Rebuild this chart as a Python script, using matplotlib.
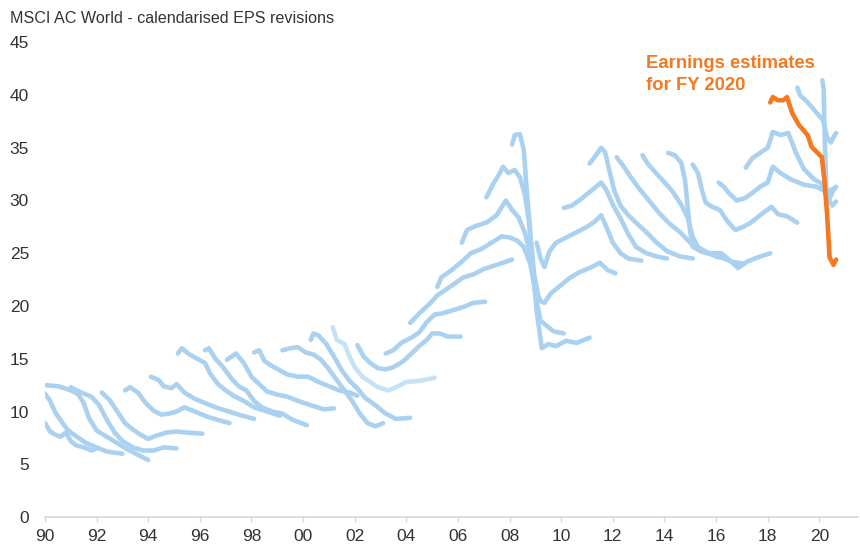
import matplotlib
matplotlib.use("Agg")
import matplotlib.pyplot as plt

plt.rcParams['font.family'] = ['Liberation Sans', 'DejaVu Sans']

# ---- data: calendarised EPS estimate paths, one per fiscal year ----
fy1990_x = [1990.0, 1990.2, 1990.4, 1990.6, 1990.8, 1991.0, 1991.2, 1991.5, 1991.8, 1992.0]
fy1990_y = [8.9, 8.1, 7.8, 7.6, 8.0, 7.2, 6.8, 6.6, 6.3, 6.5]
fy1991_x = [1990.0, 1990.2, 1990.4, 1990.6, 1990.8, 1991.0, 1991.3, 1991.6, 1992.0, 1992.4, 1992.7, 1993.0]
fy1991_y = [11.7, 11.0, 9.9, 9.2, 8.5, 8.0, 7.5, 7.0, 6.6, 6.2, 6.1, 6.0]
fy1992_x = [1990.0, 1990.5, 1991.0, 1991.3, 1991.5, 1991.7, 1992.0, 1992.4, 1992.8, 1993.2, 1993.6, 1994.0]
fy1992_y = [12.5, 12.4, 12.0, 11.6, 10.8, 9.4, 8.2, 7.6, 7.0, 6.4, 5.9, 5.4]
fy1993_x = [1991.0, 1991.4, 1991.8, 1992.1, 1992.4, 1992.7, 1993.0, 1993.4, 1993.8, 1994.2, 1994.6, 1995.1]
fy1993_y = [12.3, 11.8, 11.4, 10.6, 9.2, 8.0, 7.2, 6.6, 6.3, 6.3, 6.6, 6.5]
fy1994_x = [1992.2, 1992.5, 1992.8, 1993.1, 1993.4, 1993.7, 1994.0, 1994.3, 1994.7, 1995.1, 1995.5, 1996.1]
fy1994_y = [11.8, 11.1, 10.0, 8.9, 8.3, 7.8, 7.4, 7.7, 8.0, 8.1, 8.0, 7.9]
fy1995_x = [1993.1, 1993.3, 1993.6, 1993.9, 1994.2, 1994.5, 1994.8, 1995.1, 1995.4, 1995.8, 1996.3, 1996.7, 1997.15]
fy1995_y = [12.0, 12.3, 11.8, 10.8, 10.1, 9.7, 9.8, 10.0, 10.4, 10.0, 9.5, 9.2, 8.9]
fy1996_x = [1994.1, 1994.4, 1994.6, 1994.9, 1995.1, 1995.4, 1995.8, 1996.2, 1996.6, 1997.0, 1997.5, 1998.1]
fy1996_y = [13.3, 13.0, 12.4, 12.2, 12.6, 11.8, 11.2, 10.8, 10.4, 10.1, 9.7, 9.3]
fy1997_x = [1995.15, 1995.3, 1995.6, 1995.9, 1996.2, 1996.4, 1996.7, 1997.0, 1997.3, 1997.7, 1998.1, 1998.6, 1999.1]
fy1997_y = [15.5, 16.0, 15.4, 15.0, 14.6, 13.6, 12.6, 12.0, 11.5, 11.0, 10.4, 10.0, 9.6]
fy1998_x = [1996.2, 1996.35, 1996.6, 1996.9, 1997.2, 1997.5, 1997.8, 1998.1, 1998.4, 1998.8, 1999.2, 1999.6, 2000.15]
fy1998_y = [15.8, 16.0, 15.0, 14.2, 13.2, 12.4, 12.0, 11.0, 10.4, 10.0, 9.8, 9.2, 8.7]
fy1999_x = [1997.05, 1997.4, 1997.7, 1998.0, 1998.3, 1998.6, 1999.0, 1999.4, 1999.8, 2000.3, 2000.8, 2001.2]
fy1999_y = [14.9, 15.5, 14.6, 13.3, 12.6, 11.9, 11.6, 11.4, 11.0, 10.6, 10.2, 10.3]
fy2000_x = [1998.1, 1998.3, 1998.5, 1998.8, 1999.1, 1999.4, 1999.8, 2000.2, 2000.6, 2001.0, 2001.4, 2001.8, 2002.1]
fy2000_y = [15.6, 15.8, 14.8, 14.3, 13.9, 13.5, 13.3, 13.3, 12.8, 12.4, 12.0, 11.8, 11.5]
fy2001_x = [1999.2, 1999.5, 1999.8, 2000.1, 2000.4, 2000.7, 2001.0, 2001.3, 2001.6, 2001.9, 2002.2, 2002.5, 2002.8, 2003.1]
fy2001_y = [15.8, 16.0, 16.1, 15.6, 15.4, 14.9, 14.0, 13.0, 12.0, 11.0, 9.8, 8.9, 8.6, 8.9]
fy2002_x = [2000.3, 2000.4, 2000.6, 2000.9, 2001.2, 2001.5, 2001.8, 2002.1, 2002.4, 2002.8, 2003.2, 2003.6, 2004.15]
fy2002_y = [16.8, 17.4, 17.2, 16.4, 15.2, 13.9, 12.9, 12.2, 11.3, 10.6, 9.8, 9.3, 9.4]
fy2003_x = [2001.15, 2001.3, 2001.6, 2001.8, 2002.0, 2002.3, 2002.6, 2002.9, 2003.3, 2003.6, 2004.0, 2004.5, 2005.1]
fy2003_y = [18.0, 16.8, 16.4, 15.2, 14.2, 13.3, 12.8, 12.3, 12.0, 12.3, 12.8, 12.9, 13.2]
fy2004_x = [2002.1, 2002.35, 2002.6, 2002.9, 2003.2, 2003.5, 2003.9, 2004.2, 2004.5, 2004.8, 2005.0, 2005.3, 2005.6, 2006.1]
fy2004_y = [16.3, 15.2, 14.6, 14.1, 14.0, 14.2, 14.8, 15.5, 16.2, 16.8, 17.4, 17.4, 17.1, 17.1]
fy2005_x = [2003.2, 2003.5, 2003.8, 2004.2, 2004.5, 2004.8, 2005.1, 2005.4, 2005.8, 2006.2, 2006.6, 2007.05]
fy2005_y = [15.5, 15.8, 16.5, 17.0, 17.5, 18.5, 19.2, 19.3, 19.6, 19.9, 20.3, 20.4]
fy2006_x = [2004.15, 2004.5, 2004.9, 2005.2, 2005.5, 2005.8, 2006.2, 2006.6, 2007.0, 2007.5, 2008.1]
fy2006_y = [18.4, 19.3, 20.2, 21.0, 21.5, 22.0, 22.7, 23.0, 23.5, 23.9, 24.4]
fy2007_x = [2005.2, 2005.35, 2005.7, 2006.1, 2006.5, 2006.9, 2007.3, 2007.7, 2008.0, 2008.3, 2008.55, 2008.8, 2009.0, 2009.2]
fy2007_y = [21.8, 22.7, 23.3, 24.1, 25.0, 25.4, 26.0, 26.6, 26.5, 26.2, 25.6, 24.0, 21.5, 20.5]
fy2008_x = [2006.15, 2006.35, 2006.7, 2007.1, 2007.5, 2007.85, 2008.1, 2008.35, 2008.6, 2008.8, 2009.0, 2009.2, 2009.4, 2009.7, 2010.1]
fy2008_y = [26.0, 27.2, 27.6, 27.9, 28.6, 30.0, 29.1, 28.4, 26.9, 25.0, 21.0, 18.6, 18.2, 17.6, 17.4]
fy2009_x = [2007.1, 2007.35, 2007.6, 2007.75, 2007.95, 2008.2, 2008.4, 2008.6, 2008.75, 2008.9, 2009.05, 2009.25, 2009.5, 2009.8, 2010.2, 2010.6, 2011.1]
fy2009_y = [30.3, 31.5, 32.5, 33.2, 32.6, 32.9, 32.2, 30.5, 28.0, 24.0, 19.5, 16.0, 16.4, 16.2, 16.7, 16.5, 17.0]
fy2010_x = [2008.1, 2008.2, 2008.4, 2008.55, 2008.65, 2008.8, 2008.95, 2009.15, 2009.35, 2009.6, 2009.9, 2010.3, 2010.7, 2011.1, 2011.5, 2011.8, 2012.1]
fy2010_y = [35.3, 36.2, 36.3, 34.8, 31.5, 27.0, 23.0, 20.5, 20.3, 21.2, 21.8, 22.6, 23.2, 23.6, 24.1, 23.4, 23.1]
fy2011_x = [2009.05, 2009.2, 2009.35, 2009.55, 2009.8, 2010.2, 2010.6, 2011.0, 2011.3, 2011.55, 2011.75, 2012.0, 2012.3, 2012.6, 2013.1]
fy2011_y = [26.0, 24.5, 23.7, 25.2, 26.0, 26.5, 27.0, 27.5, 28.0, 28.6, 27.5, 26.0, 25.0, 24.5, 24.3]
fy2012_x = [2010.1, 2010.4, 2010.75, 2011.1, 2011.35, 2011.55, 2011.75, 2012.0, 2012.3, 2012.6, 2012.9, 2013.3, 2013.7, 2014.1]
fy2012_y = [29.3, 29.5, 30.1, 30.8, 31.3, 31.7, 31.0, 29.6, 28.3, 26.8, 25.6, 25.0, 24.7, 24.5]
fy2013_x = [2011.1, 2011.35, 2011.55, 2011.7, 2011.85, 2012.05, 2012.3, 2012.6, 2012.9, 2013.3, 2013.7, 2014.1, 2014.6, 2015.1]
fy2013_y = [33.5, 34.3, 35.0, 34.6, 33.0, 31.0, 29.5, 28.6, 27.9, 27.0, 26.0, 25.2, 24.7, 24.5]
fy2014_x = [2012.15, 2012.4, 2012.7, 2013.0, 2013.4, 2013.8, 2014.2, 2014.6, 2015.0, 2015.4, 2015.8, 2016.1]
fy2014_y = [34.1, 33.3, 32.2, 31.2, 30.0, 28.8, 27.8, 27.0, 26.0, 25.2, 24.9, 24.6]
fy2015_x = [2013.15, 2013.35, 2013.6, 2013.9, 2014.3, 2014.65, 2014.9, 2015.1, 2015.3, 2015.7, 2016.1, 2016.6, 2017.1]
fy2015_y = [34.3, 33.5, 32.8, 32.0, 30.9, 29.6, 28.4, 26.5, 25.6, 25.0, 24.7, 24.2, 24.0]
fy2016_x = [2014.15, 2014.4, 2014.65, 2014.8, 2014.9, 2015.0, 2015.1, 2015.4, 2015.8, 2016.2, 2016.5, 2016.85, 2017.2, 2017.6, 2018.1]
fy2016_y = [34.5, 34.3, 33.6, 31.9, 29.4, 27.0, 25.6, 25.2, 25.0, 25.0, 24.4, 23.6, 24.2, 24.6, 25.0]
fy2017_x = [2015.1, 2015.3, 2015.45, 2015.6, 2015.85, 2016.15, 2016.45, 2016.75, 2017.05, 2017.35, 2017.7, 2018.15, 2018.4, 2018.75, 2019.15]
fy2017_y = [33.4, 32.6, 31.0, 29.8, 29.4, 29.1, 28.0, 27.2, 27.5, 27.9, 28.6, 29.4, 28.7, 28.5, 27.9]
fy2018_x = [2016.1, 2016.3, 2016.5, 2016.8, 2017.1, 2017.4, 2017.7, 2018.0, 2018.2, 2018.5, 2018.9, 2019.4, 2019.9, 2020.3, 2020.6]
fy2018_y = [31.7, 31.3, 30.7, 30.0, 30.2, 30.7, 31.3, 31.7, 33.2, 32.6, 32.0, 31.5, 31.3, 30.8, 31.2]
fy2019_x = [2017.15, 2017.4, 2017.7, 2018.0, 2018.2, 2018.5, 2018.8, 2019.1, 2019.4, 2019.8, 2020.1, 2020.25, 2020.5, 2020.65]
fy2019_y = [33.1, 34.0, 34.5, 35.0, 36.5, 36.2, 36.4, 34.5, 33.0, 32.0, 31.6, 30.5, 29.5, 29.9]
fy2021_x = [2019.15, 2019.25, 2019.55, 2019.9, 2020.15, 2020.3, 2020.45, 2020.55, 2020.65]
fy2021_y = [40.7, 40.0, 39.3, 38.3, 37.6, 36.0, 35.5, 36.0, 36.4]
fy2022_x = [2020.12, 2020.17, 2020.22, 2020.28, 2020.4, 2020.55, 2020.65]
fy2022_y = [41.4, 40.5, 35.0, 31.0, 30.2, 31.0, 31.3]
fy2020_x = [2018.1, 2018.2, 2018.4, 2018.6, 2018.75, 2018.95, 2019.2, 2019.55, 2019.7, 2020.1, 2020.2, 2020.3, 2020.4, 2020.55, 2020.65]
fy2020_y = [39.3, 39.8, 39.5, 39.5, 39.8, 38.3, 37.2, 36.2, 35.1, 34.1, 31.9, 28.8, 24.6, 23.9, 24.4]

year_ticks = list(range(1990, 2021, 2))
year_labels = ['90', '92', '94', '96', '98', '00', '02', '04', '06', '08', '10', '12', '14', '16', '18', '20']
y_ticks = [0, 5, 10, 15, 20, 25, 30, 35, 40, 45]

title = 'MSCI AC World - calendarised EPS revisions'
annot = ['Earnings estimates', 'for FY 2020']

blue_series = [
    (fy1990_x, fy1990_y), (fy1991_x, fy1991_y), (fy1992_x, fy1992_y), (fy1993_x, fy1993_y),
    (fy1994_x, fy1994_y), (fy1995_x, fy1995_y), (fy1996_x, fy1996_y), (fy1997_x, fy1997_y),
    (fy1998_x, fy1998_y), (fy1999_x, fy1999_y), (fy2000_x, fy2000_y), (fy2001_x, fy2001_y),
    (fy2002_x, fy2002_y), (fy2004_x, fy2004_y), (fy2005_x, fy2005_y),
    (fy2006_x, fy2006_y), (fy2007_x, fy2007_y), (fy2008_x, fy2008_y), (fy2009_x, fy2009_y),
    (fy2010_x, fy2010_y), (fy2011_x, fy2011_y), (fy2012_x, fy2012_y), (fy2013_x, fy2013_y),
    (fy2014_x, fy2014_y), (fy2015_x, fy2015_y), (fy2016_x, fy2016_y), (fy2017_x, fy2017_y),
    (fy2018_x, fy2018_y), (fy2019_x, fy2019_y), (fy2021_x, fy2021_y), (fy2022_x, fy2022_y),
]

BLUE = '#aad2f0'
LIGHT_BLUE = '#c6e2f7'
ORANGE = '#f47920'
TEXT = '#333333'
LW = 3.3

fig = plt.figure(figsize=(8.6, 5.46), dpi=100)
ax = fig.add_axes([45 / 860, 29 / 546, (858 - 45) / 860, (517 - 42.25) / 546])

ax.plot(fy2003_x, fy2003_y, color=LIGHT_BLUE, lw=LW, solid_capstyle='round', solid_joinstyle='round')
for xs, ys in blue_series:
    ax.plot(xs, ys, color=BLUE, lw=LW, solid_capstyle='round', solid_joinstyle='round')
ax.plot(fy2020_x, fy2020_y, color=ORANGE, lw=LW, solid_capstyle='round', solid_joinstyle='round', zorder=5)

ax.set_xlim(1990, 2021.5)
ax.set_ylim(0, 45)
ax.set_xticks(year_ticks)
ax.set_xticklabels(year_labels)
ax.set_yticks(y_ticks)

for s in ['top', 'right', 'left']:
    ax.spines[s].set_visible(False)
ax.spines['bottom'].set_color('#d9d9d9')
ax.spines['bottom'].set_linewidth(1.3)
ax.tick_params(axis='x', direction='out', length=3.5, width=1.0, color='#d9d9d9',
               labelsize=12.5, labelcolor=TEXT, pad=5)
ax.tick_params(axis='y', length=0, labelsize=12.5, labelcolor=TEXT, pad=11.5)
for lab in ax.get_yticklabels():
    lab.set_horizontalalignment('right')

fig.text(10 / 860, 1 - 23 / 546, title, fontsize=11.6, color=TEXT, va='baseline', ha='left')

ax.text(2013.3, 42.55, annot[0], color=ORANGE, fontsize=13.3, fontweight='bold', va='baseline', ha='left')
ax.text(2013.3, 40.45, annot[1], color=ORANGE, fontsize=13.3, fontweight='bold', va='baseline', ha='left')

fig.savefig('out.png', dpi=100)
